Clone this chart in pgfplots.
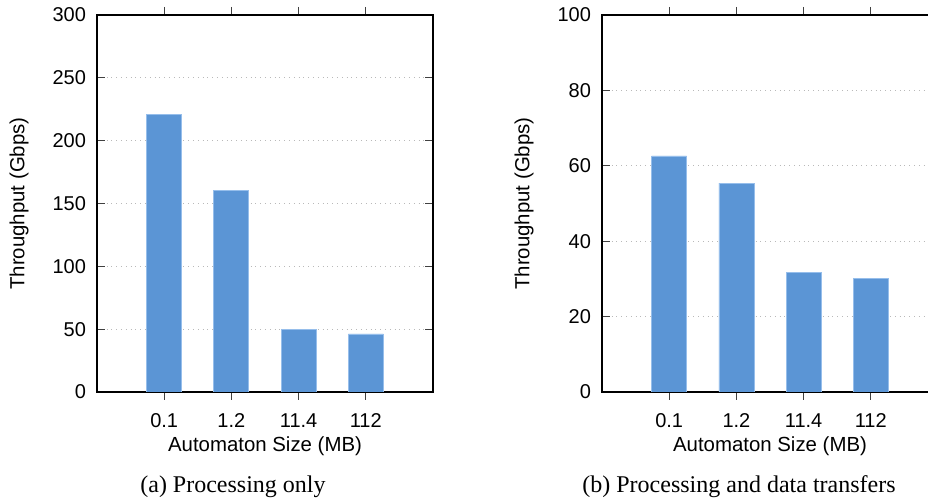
\documentclass[border=0pt]{standalone}
\usepackage{fontspec}
\setmainfont{Liberation Serif}
\newfontfamily\plotfont{Liberation Sans}
\usepackage{pgfplots}
\pgfplotsset{compat=1.18}

\definecolor{barblue}{RGB}{91,149,213}
\definecolor{baredge}{RGB}{150,190,235}
\definecolor{gridgray}{RGB}{185,185,185}

\pgfplotsset{
  throughput/.style={
    scale only axis,
    width=168pt, height=188.5pt,
    anchor=south west,
    xmin=0, xmax=5, ymin=0,
    xtick={1,2,3,4},
    xticklabels={0.1,1.2,11.4,112},
    xtick pos=both, ytick pos=both,
    tick align=inside,
    major tick length=4pt,
    every tick/.style={black!75, line width=0.6pt},
    axis line style={line width=0.75pt},
    ymajorgrids,
    major grid style={gridgray, dotted, line width=0.6pt},
    tick label style={font=\plotfont\fontsize{10}{12}\selectfont},
    label style={font=\plotfont\fontsize{10.2}{12}\selectfont},
    /pgf/number format/assume math mode=true,
    yticklabel style={xshift=-2pt},
    xticklabel style={anchor=base, yshift=-14pt},
    xlabel style={at={(axis description cs:0.5,0)}, anchor=base, yshift=-29.8pt},
    ylabel style={at={(axis description cs:-0.232,0.5)}, anchor=center},
    xlabel={Automaton Size (MB)},
    ylabel={Throughput (Gbps)},
    ybar, bar width=17.5pt,
  },
  bars/.style={fill=barblue, draw=baredge, line width=0.4pt},
}

\begin{document}
\begin{tikzpicture}
% (a) processing only
\begin{axis}[throughput, at={(48.5pt,-196pt)}, ymax=300, ytick={0,50,...,300}]
  \addplot[bars] coordinates {(1,221) (2,160.5) (3,50.1) (4,46.2)};
\end{axis}
% (b) processing and data transfers
\begin{axis}[throughput, at={(301pt,-196pt)}, ymax=100, ytick={0,20,...,100}]
  \addplot[bars] coordinates {(1,62.6) (2,55.4) (3,31.7) (4,30.2)};
\end{axis}
\node[anchor=base, font=\fontsize{12}{14}\selectfont] at (116.5pt,-246.5pt)
  {(a)\hspace{3pt}Processing only};
\node[anchor=base, font=\fontsize{12}{14}\selectfont] at (369.5pt,-246.5pt)
  {(b)\hspace{3pt}Processing and data transfers};
\pgfresetboundingbox
\path[use as bounding box] (0pt,0pt) rectangle (464pt,-250.5pt);
\end{tikzpicture}
\end{document}
